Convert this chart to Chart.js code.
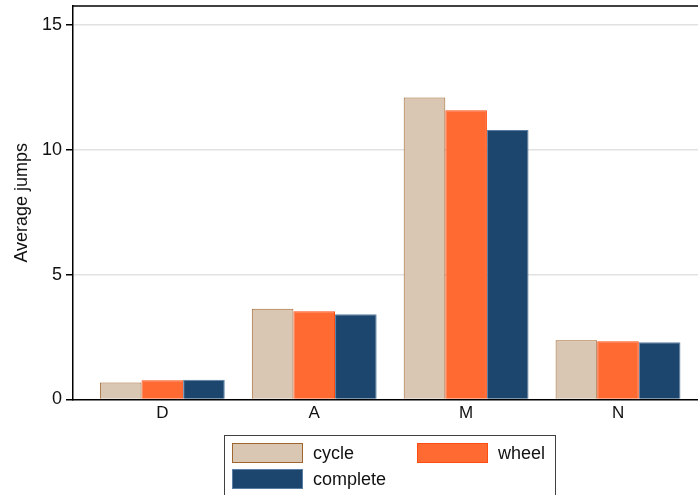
<!DOCTYPE html>
<html>
<head>
<meta charset="utf-8">
<script src="https://cdn.jsdelivr.net/npm/chart.js@4/dist/chart.umd.min.js"></script>
<style>
  html, body { margin: 0; padding: 0; background: #ffffff; overflow: hidden; }
  #wrap { width: 698px; height: 495px; }
</style>
</head>
<body>
<div id="wrap"><canvas id="chart" width="698" height="495"></canvas></div>
<script>
// Categories and series
const categories = ['D', 'A', 'M', 'N'];
const cycleValues = [0.68, 3.63, 12.09, 2.37];
const wheelValues = [0.77, 3.53, 11.58, 2.33];
const completeValues = [0.79, 3.41, 10.79, 2.29];
const yTicks = [0, 5, 10, 15];
const seriesNames = ['cycle', 'wheel', 'complete'];
const yTitle = 'Average jumps';

const FONT = '"Liberation Sans", Arial, Helvetica, sans-serif';

// Draws the top frame line, the y-axis title and the framed legend box
const frameAndLegend = {
  id: 'frameAndLegend',
  afterDraw(chart) {
    const ctx = chart.ctx;
    const area = chart.chartArea;
    ctx.save();
    // top frame line
    ctx.strokeStyle = '#000000';
    ctx.lineWidth = 1.5;
    ctx.beginPath();
    ctx.moveTo(area.left, area.top);
    ctx.lineTo(area.right, area.top);
    ctx.stroke();

    // y-axis title, centred on the plot height
    ctx.save();
    ctx.translate(22, (area.top + area.bottom) / 2);
    ctx.rotate(-Math.PI / 2);
    ctx.font = '18px ' + FONT;
    ctx.fillStyle = '#111111';
    ctx.textAlign = 'center';
    ctx.textBaseline = 'middle';
    ctx.fillText(yTitle, 0, 0);
    ctx.restore();

    // legend box
    const boxL = 224.5, boxT = 435.5, boxR = 555.5, boxB = 505;
    ctx.strokeStyle = '#404040';
    ctx.lineWidth = 1;
    ctx.strokeRect(boxL, boxT, boxR - boxL, boxB - boxT);

    const slots = [
      { x: 232.5, y: 443.5 },
      { x: 417.5, y: 443.5 },
      { x: 232.5, y: 469.5 }
    ];
    ctx.font = '18px ' + FONT;
    ctx.textBaseline = 'middle';
    ctx.textAlign = 'left';
    chart.data.datasets.forEach((ds, i) => {
      const s = slots[i];
      const w = 70, h = 19;
      ctx.fillStyle = ds.backgroundColor;
      ctx.fillRect(s.x, s.y, w, h);
      ctx.strokeStyle = ds.borderColor;
      ctx.lineWidth = 1;
      ctx.strokeRect(s.x, s.y, w, h);
      ctx.fillStyle = '#111111';
      ctx.fillText(ds.label, s.x + 80.5, s.y + h / 2 + 1);
    });
    ctx.restore();
  }
};

new Chart(document.getElementById('chart'), {
  type: 'bar',
  data: {
    labels: categories,
    datasets: [
      { label: seriesNames[0], data: cycleValues, backgroundColor: '#d9c7b3', borderColor: '#a0652d', borderWidth: 1 },
      { label: seriesNames[1], data: wheelValues, backgroundColor: '#ff6a32', borderColor: '#ff4d12', borderWidth: 1 },
      { label: seriesNames[2], data: completeValues, backgroundColor: '#1c466d', borderColor: '#5a7ea3', borderWidth: 1 }
    ]
  },
  options: {
    responsive: false,
    devicePixelRatio: 1,
    animation: false,
    layout: { padding: { top: 6, left: 0, right: 0, bottom: 0 } },
    datasets: { bar: { categoryPercentage: 0.822, barPercentage: 1.0 } },
    plugins: { legend: { display: false }, tooltip: { enabled: false } },
    scales: {
      x: {
        grid: { display: false, drawTicks: false },
        border: { display: true, color: '#000000', width: 1.5 },
        ticks: { color: '#111111', font: { family: FONT, size: 17 }, padding: 4 },
        afterFit(scale) {
          scale.height = 95.5;
          scale.paddingLeft = 0;
          scale.paddingRight = 0;
        },
        afterBuildTicks(scale) {
          // inset the first and last category from the frame edges
          scale._startValue = -0.588;
          scale._valueRange = 4.1145;
        }
      },
      y: {
        min: 0,
        max: 15.75,
        border: { display: true, color: '#000000', width: 1.5 },
        grid: {
          color: (c) => (c.tick && c.tick.value === 0) ? 'rgba(0,0,0,0)' : '#e1e1e1',
          lineWidth: 1.5,
          tickColor: '#000000',
          tickLength: 7,
          drawTicks: true
        },
        ticks: {
          stepSize: 5,
          includeBounds: false,
          color: '#111111',
          font: { family: FONT, size: 18 },
          padding: 4
        },
        afterBuildTicks(scale) {
          scale.ticks = yTicks.map(v => ({ value: v }));
        },
        afterFit(scale) {
          scale.width = 73;
          scale.paddingTop = 0;
          scale.paddingBottom = 0;
        }
      }
    }
  },
  plugins: [frameAndLegend]
});
</script>
</body>
</html>
